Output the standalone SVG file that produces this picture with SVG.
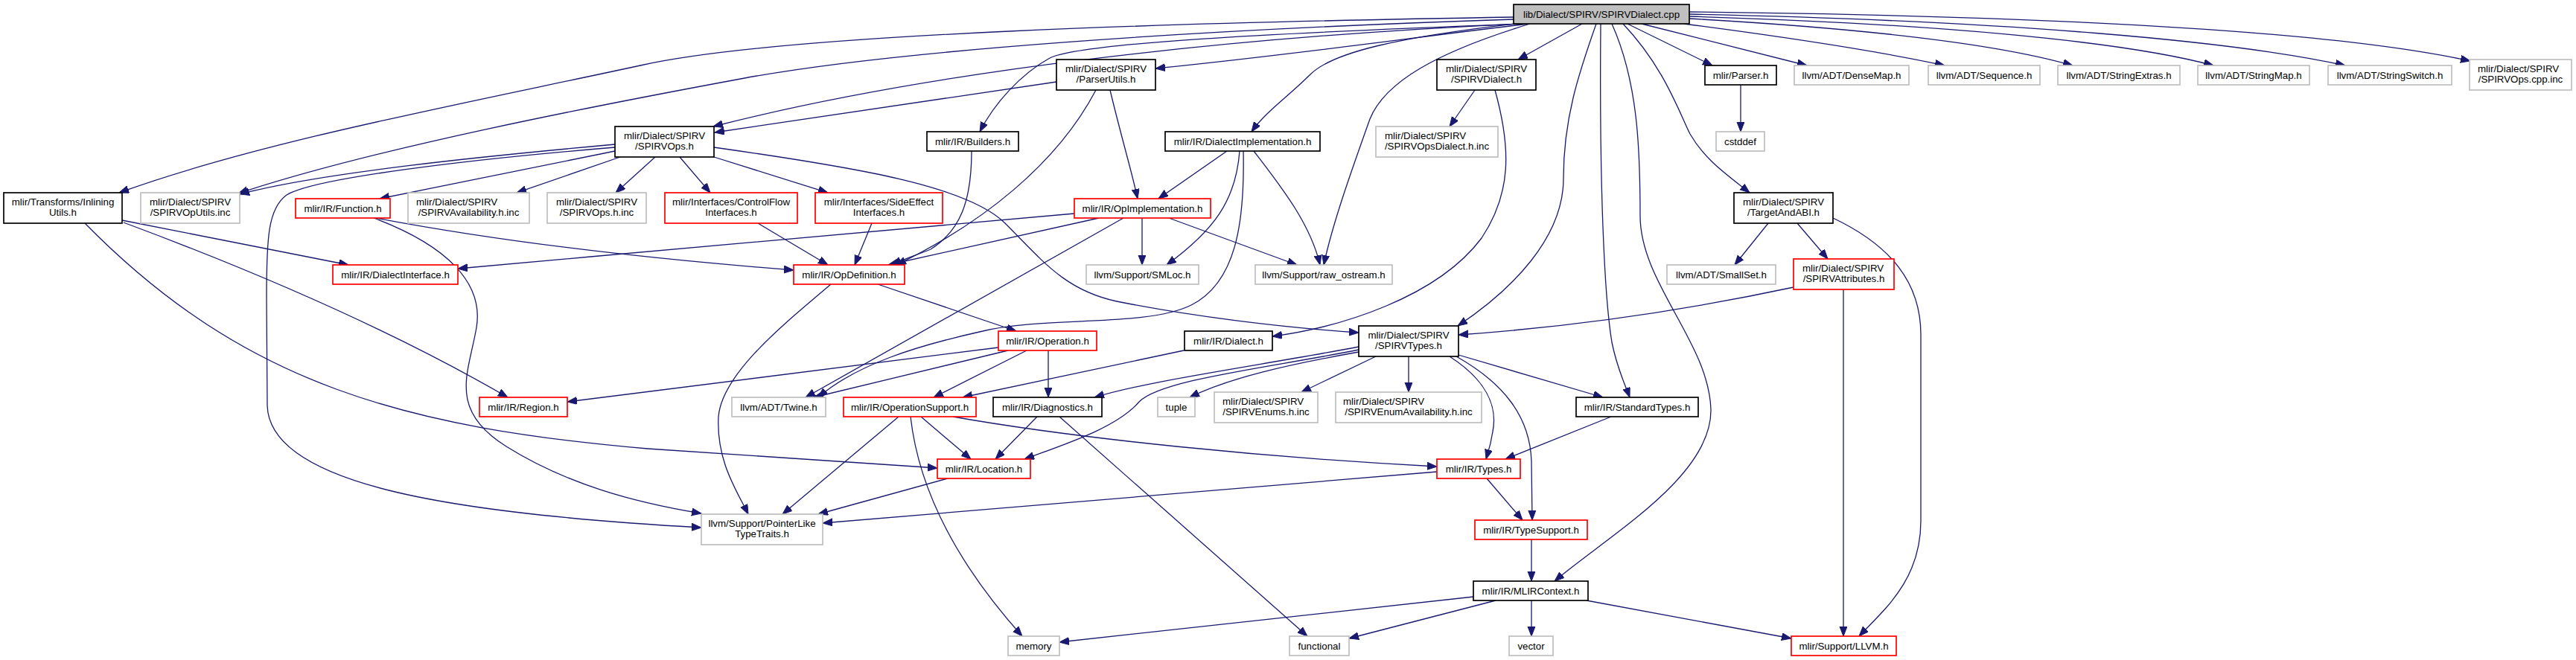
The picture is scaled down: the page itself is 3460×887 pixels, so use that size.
<svg xmlns="http://www.w3.org/2000/svg" width="3460" height="887" viewBox="0 0 3460 887">
<defs>
<style>
.e{fill:none;stroke:#191970;stroke-width:1.3;marker-end:url(#ah)}
.n rect{fill:#ffffff;stroke-width:1.7}
.nb rect{stroke:#000000}
.ng rect{stroke:#bfbfbf}
.nr rect{stroke:#ff0000}
.root rect{fill:#bfbfbf;stroke:#000000}
text{font-family:"Liberation Sans",Arial,sans-serif;font-size:13.3px;fill:#000000}
.m{text-anchor:middle}
.s{text-anchor:start}
</style>
<marker id="ah" markerUnits="userSpaceOnUse" markerWidth="14" markerHeight="11" refX="13" refY="5" orient="auto">
<path d="M0,0 L13,5 L0,10 z" fill="#191970" stroke="#191970" stroke-width="1"/>
</marker>
</defs>
<rect x="0" y="0" width="3460" height="887" fill="#ffffff"/>
<g id="connectors">
<path class="e" d="M2033,23 C1600,30 1050,45 860,88 C620,140 350,190 160,259"/>
<path class="e" d="M2033,26 C1600,40 1200,68 1000,105 C800,142 500,200 320,260"/>
<path class="e" d="M2040,32 C1650,50 1250,95 958,170"/>
<path class="e" d="M2045,32 C1700,45 1450,58 1410,78 C1370,100 1335,140 1316,177"/>
<path class="e" d="M2053,32 C1900,50 1750,72 1552,92"/>
<path class="e" d="M2035,32 C1880,50 1790,70 1760,100 C1730,130 1700,150 1681,177"/>
<path class="e" d="M2055,32 C1930,70 1860,110 1840,160 C1815,230 1790,300 1778,356"/>
<path class="e" d="M2125,32 L2039,80"/>
<path class="e" d="M2144,32 C2120,100 2100,160 2100,240 C2100,320 2030,390 1958,438"/>
<path class="e" d="M2150,32 C2148,250 2155,400 2165,460 C2172,495 2182,515 2189,534"/>
<path class="e" d="M2165,32 C2200,110 2203,200 2203,290 C2203,380 2295,460 2298,550 C2300,640 2160,720 2088,781"/>
<path class="e" d="M2180,32 C2235,90 2255,150 2270,180 C2290,215 2320,235 2350,259"/>
<path class="e" d="M2186,32 L2300,88"/>
<path class="e" d="M2205,32 L2427,88"/>
<path class="e" d="M2262,32 C2400,50 2520,68 2612,88"/>
<path class="e" d="M2269,25 C2500,38 2680,58 2784,88"/>
<path class="e" d="M2269,22 C2600,32 2850,55 2973,88"/>
<path class="e" d="M2269,19 C2700,28 3000,55 3150,88"/>
<path class="e" d="M2269,16 C2800,22 3150,45 3318,82"/>
<path class="e" d="M1419,110 L960,178"/>
<path class="e" d="M1472,121 C1420,220 1320,300 1204,356"/>
<path class="e" d="M1491,121 C1505,180 1520,230 1528,267"/>
<path class="e" d="M1981,121 L1947,170"/>
<path class="e" d="M2008,121 C2030,200 2030,260 1990,320 C1930,400 1800,440 1709,452"/>
<path class="e" d="M2338,114 L2338,177"/>
<path class="e" d="M826,194 C650,210 430,232 322,261"/>
<path class="e" d="M826,198 C620,215 420,240 385,262 C360,280 358,320 358,400 L359,545 C362,650 600,690 942,709"/>
<path class="e" d="M826,203 L510,267"/>
<path class="e" d="M833,211 L694,259"/>
<path class="e" d="M880,211 L827,259"/>
<path class="e" d="M913,211 L954,259"/>
<path class="e" d="M959,211 L1112,259"/>
<path class="e" d="M959,198 C1150,225 1300,250 1350,300 C1400,350 1430,390 1500,405 C1600,425 1720,440 1825,447"/>
<path class="e" d="M1305,203 C1305,270 1290,310 1250,335 C1225,345 1210,350 1198,356"/>
<path class="e" d="M1648,203 L1556,267"/>
<path class="e" d="M1665,203 C1660,270 1630,310 1567,356"/>
<path class="e" d="M1684,203 C1720,250 1760,300 1773,356"/>
<path class="e" d="M1670,203 C1672,300 1660,380 1600,410 C1540,440 1400,425 1320,445 C1230,465 1150,490 1099,534"/>
<path class="e" d="M164,296 L468,356"/>
<path class="e" d="M166,299 C330,360 520,440 682,534"/>
<path class="e" d="M114,300 C330,520 550,575 870,603 L1259,629"/>
<path class="e" d="M505,293 C700,330 900,350 1066,363"/>
<path class="e" d="M502,293 C600,330 650,380 640,440 C630,500 600,550 680,600 C760,650 850,675 942,690"/>
<path class="e" d="M1018,300 L1112,356"/>
<path class="e" d="M1171,300 L1148,356"/>
<path class="e" d="M1443,287 C1200,310 900,335 615,361"/>
<path class="e" d="M1476,293 L1193,356"/>
<path class="e" d="M1534,293 L1534,356"/>
<path class="e" d="M1570,293 L1742,356"/>
<path class="e" d="M1509,293 L1082,534"/>
<path class="e" d="M2375,300 L2330,356"/>
<path class="e" d="M2414,300 L2455,348"/>
<path class="e" d="M2462,293 C2540,330 2580,380 2580,450 L2580,700 C2580,780 2530,820 2497,855"/>
<path class="e" d="M1179,382 L1365,445"/>
<path class="e" d="M1116,382 C1060,430 970,500 965,560 C962,620 990,660 1005,691"/>
<path class="e" d="M2409,386 C2250,420 2100,440 1959,450"/>
<path class="e" d="M2476,389 L2476,855"/>
<path class="e" d="M1341,467 L762,540"/>
<path class="e" d="M1354,471 L1093,534"/>
<path class="e" d="M1379,471 L1254,534"/>
<path class="e" d="M1408,471 L1408,534"/>
<path class="e" d="M1590,471 L1293,534"/>
<path class="e" d="M1825,466 C1700,490 1550,510 1470,534"/>
<path class="e" d="M1825,470 C1700,495 1560,510 1530,540 C1500,575 1430,597 1376,617"/>
<path class="e" d="M1825,473 C1730,490 1650,508 1598,534"/>
<path class="e" d="M1848,479 L1748,527"/>
<path class="e" d="M1892,479 L1892,527"/>
<path class="e" d="M1959,477 L2153,534"/>
<path class="e" d="M1947,479 C1995,510 2012,545 2005,580 C2002,600 1998,610 1996,617"/>
<path class="e" d="M1956,479 C2020,515 2055,560 2057,620 L2058,699"/>
<path class="e" d="M1237,560 L1304,617"/>
<path class="e" d="M1207,560 L1051,691"/>
<path class="e" d="M1223,560 C1232,640 1270,740 1373,855"/>
<path class="e" d="M1280,560 C1450,590 1700,615 1930,627"/>
<path class="e" d="M1393,560 L1337,617"/>
<path class="e" d="M1423,560 L1756,855"/>
<path class="e" d="M2164,560 L2022,617"/>
<path class="e" d="M1273,643 L1099,691"/>
<path class="e" d="M1997,643 L2045,699"/>
<path class="e" d="M1930,634 L1105,703"/>
<path class="e" d="M2057,725 L2057,781"/>
<path class="e" d="M1979,802 L1423,863"/>
<path class="e" d="M2009,807 L1812,858"/>
<path class="e" d="M2057,807 L2057,855"/>
<path class="e" d="M2131,807 L2406,858"/>
</g>
<g id="nodes">
<g id="n_root" class="n root"><rect x="2033" y="6" width="236" height="26"/><text class="m" x="2151" y="23.5">lib/Dialect/SPIRV/SPIRVDialect.cpp</text></g>
<g id="n_parserutils" class="n nb"><rect x="1419" y="80" width="133" height="41"/><text class="m" x="1485.5" y="97">mlir/Dialect/SPIRV</text><text class="m" x="1485.5" y="111">/ParserUtils.h</text></g>
<g id="n_spirvdialect_h" class="n nb"><rect x="1930" y="80" width="133" height="41"/><text class="m" x="1996.5" y="97">mlir/Dialect/SPIRV</text><text class="m" x="1996.5" y="111">/SPIRVDialect.h</text></g>
<g id="n_parser" class="n nb"><rect x="2290" y="88" width="96" height="26"/><text class="m" x="2338" y="105.5">mlir/Parser.h</text></g>
<g id="n_densemap" class="n ng"><rect x="2410" y="88" width="154" height="26"/><text class="m" x="2487" y="105.5">llvm/ADT/DenseMap.h</text></g>
<g id="n_sequence" class="n ng"><rect x="2590" y="88" width="150" height="26"/><text class="m" x="2665" y="105.5">llvm/ADT/Sequence.h</text></g>
<g id="n_stringextras" class="n ng"><rect x="2764" y="88" width="164" height="26"/><text class="m" x="2846" y="105.5">llvm/ADT/StringExtras.h</text></g>
<g id="n_stringmap" class="n ng"><rect x="2952" y="88" width="150" height="26"/><text class="m" x="3027" y="105.5">llvm/ADT/StringMap.h</text></g>
<g id="n_stringswitch" class="n ng"><rect x="3127" y="88" width="166" height="26"/><text class="m" x="3210" y="105.5">llvm/ADT/StringSwitch.h</text></g>
<g id="n_opscppinc" class="n ng"><rect x="3317" y="80" width="137" height="41"/><text class="s" x="3328" y="97">mlir/Dialect/SPIRV</text><text class="m" x="3385.5" y="111">/SPIRVOps.cpp.inc</text></g>
<g id="n_spirvops_h" class="n nb"><rect x="826" y="170" width="133" height="41"/><text class="m" x="892.5" y="187">mlir/Dialect/SPIRV</text><text class="m" x="892.5" y="201">/SPIRVOps.h</text></g>
<g id="n_builders" class="n nb"><rect x="1245" y="177" width="123" height="26"/><text class="m" x="1306.5" y="194.5">mlir/IR/Builders.h</text></g>
<g id="n_dialectimpl" class="n nb"><rect x="1565" y="177" width="208" height="26"/><text class="m" x="1669" y="194.5">mlir/IR/DialectImplementation.h</text></g>
<g id="n_opsdialectinc" class="n ng"><rect x="1848" y="170" width="164" height="41"/><text class="s" x="1860" y="187">mlir/Dialect/SPIRV</text><text class="m" x="1930" y="201">/SPIRVOpsDialect.h.inc</text></g>
<g id="n_cstddef" class="n ng"><rect x="2305" y="177" width="65" height="26"/><text class="m" x="2337.5" y="194.5">cstddef</text></g>
<g id="n_inliningutils" class="n nb"><rect x="5" y="259" width="159" height="41"/><text class="m" x="84.5" y="276">mlir/Transforms/Inlining</text><text class="m" x="84.5" y="290">Utils.h</text></g>
<g id="n_oputilsinc" class="n ng"><rect x="189" y="259" width="133" height="41"/><text class="m" x="255.5" y="276">mlir/Dialect/SPIRV</text><text class="m" x="255.5" y="290">/SPIRVOpUtils.inc</text></g>
<g id="n_function" class="n nr"><rect x="397" y="267" width="127" height="26"/><text class="m" x="460.5" y="284.5">mlir/IR/Function.h</text></g>
<g id="n_availinc" class="n ng"><rect x="548" y="259" width="163" height="41"/><text class="s" x="559" y="276">mlir/Dialect/SPIRV</text><text class="m" x="629.5" y="290">/SPIRVAvailability.h.inc</text></g>
<g id="n_opshinc" class="n ng"><rect x="735" y="259" width="133" height="41"/><text class="m" x="801.5" y="276">mlir/Dialect/SPIRV</text><text class="m" x="801.5" y="290">/SPIRVOps.h.inc</text></g>
<g id="n_controlflow" class="n nr"><rect x="893" y="259" width="178" height="41"/><text class="m" x="982" y="276">mlir/Interfaces/ControlFlow</text><text class="m" x="982" y="290">Interfaces.h</text></g>
<g id="n_sideeffect" class="n nr"><rect x="1095" y="259" width="171" height="41"/><text class="m" x="1180.5" y="276">mlir/Interfaces/SideEffect</text><text class="m" x="1180.5" y="290">Interfaces.h</text></g>
<g id="n_opimpl" class="n nr"><rect x="1443" y="267" width="183" height="26"/><text class="m" x="1534.5" y="284.5">mlir/IR/OpImplementation.h</text></g>
<g id="n_targetandabi" class="n nb"><rect x="2329" y="259" width="133" height="41"/><text class="m" x="2395.5" y="276">mlir/Dialect/SPIRV</text><text class="m" x="2395.5" y="290">/TargetAndABI.h</text></g>
<g id="n_dialectinterface" class="n nr"><rect x="447" y="356" width="168" height="26"/><text class="m" x="531" y="373.5">mlir/IR/DialectInterface.h</text></g>
<g id="n_opdefinition" class="n nr"><rect x="1066" y="356" width="149" height="26"/><text class="m" x="1140.5" y="373.5">mlir/IR/OpDefinition.h</text></g>
<g id="n_smloc" class="n ng"><rect x="1459" y="356" width="151" height="26"/><text class="m" x="1534.5" y="373.5">llvm/Support/SMLoc.h</text></g>
<g id="n_rawostream" class="n ng"><rect x="1686" y="356" width="184" height="26"/><text class="m" x="1778" y="373.5">llvm/Support/raw_ostream.h</text></g>
<g id="n_smallset" class="n ng"><rect x="2239" y="356" width="146" height="26"/><text class="m" x="2312" y="373.5">llvm/ADT/SmallSet.h</text></g>
<g id="n_spirvattributes" class="n nr"><rect x="2409" y="348" width="135" height="41"/><text class="s" x="2421" y="365">mlir/Dialect/SPIRV</text><text class="m" x="2476.5" y="379">/SPIRVAttributes.h</text></g>
<g id="n_operation" class="n nr"><rect x="1341" y="445" width="132" height="26"/><text class="m" x="1407" y="462.5">mlir/IR/Operation.h</text></g>
<g id="n_dialect" class="n nb"><rect x="1591" y="445" width="118" height="26"/><text class="m" x="1650" y="462.5">mlir/IR/Dialect.h</text></g>
<g id="n_spirvtypes" class="n nb"><rect x="1825" y="438" width="134" height="41"/><text class="m" x="1892" y="455">mlir/Dialect/SPIRV</text><text class="m" x="1892" y="469">/SPIRVTypes.h</text></g>
<g id="n_region" class="n nr"><rect x="644" y="534" width="118" height="26"/><text class="m" x="703" y="551.5">mlir/IR/Region.h</text></g>
<g id="n_twine" class="n ng"><rect x="983" y="534" width="126" height="26"/><text class="m" x="1046" y="551.5">llvm/ADT/Twine.h</text></g>
<g id="n_opsupport" class="n nr"><rect x="1133" y="534" width="178" height="26"/><text class="m" x="1222" y="551.5">mlir/IR/OperationSupport.h</text></g>
<g id="n_diagnostics" class="n nb"><rect x="1334" y="534" width="146" height="26"/><text class="m" x="1407" y="551.5">mlir/IR/Diagnostics.h</text></g>
<g id="n_tuple" class="n ng"><rect x="1555" y="534" width="50" height="26"/><text class="m" x="1580" y="551.5">tuple</text></g>
<g id="n_enumsinc" class="n ng"><rect x="1631" y="527" width="139" height="41"/><text class="s" x="1642" y="544">mlir/Dialect/SPIRV</text><text class="m" x="1700.5" y="558">/SPIRVEnums.h.inc</text></g>
<g id="n_enumavailinc" class="n ng"><rect x="1794" y="527" width="196" height="41"/><text class="s" x="1804" y="544">mlir/Dialect/SPIRV</text><text class="m" x="1892" y="558">/SPIRVEnumAvailability.h.inc</text></g>
<g id="n_standardtypes" class="n nb"><rect x="2117" y="534" width="164" height="26"/><text class="m" x="2199" y="551.5">mlir/IR/StandardTypes.h</text></g>
<g id="n_location" class="n nr"><rect x="1259" y="617" width="125" height="26"/><text class="m" x="1321.5" y="634.5">mlir/IR/Location.h</text></g>
<g id="n_types" class="n nr"><rect x="1930" y="617" width="112" height="26"/><text class="m" x="1986" y="634.5">mlir/IR/Types.h</text></g>
<g id="n_pointerlike" class="n ng"><rect x="942" y="691" width="163" height="41"/><text class="m" x="1023.5" y="708">llvm/Support/PointerLike</text><text class="m" x="1023.5" y="722">TypeTraits.h</text></g>
<g id="n_typesupport" class="n nr"><rect x="1981" y="699" width="151" height="26"/><text class="m" x="2056.5" y="716.5">mlir/IR/TypeSupport.h</text></g>
<g id="n_mlircontext" class="n nb"><rect x="1979" y="781" width="154" height="26"/><text class="m" x="2056" y="798.5">mlir/IR/MLIRContext.h</text></g>
<g id="n_memory" class="n ng"><rect x="1354" y="855" width="69" height="26"/><text class="m" x="1388.5" y="872.5">memory</text></g>
<g id="n_functional" class="n ng"><rect x="1732" y="855" width="80" height="26"/><text class="m" x="1772" y="872.5">functional</text></g>
<g id="n_vector" class="n ng"><rect x="2027" y="855" width="59" height="26"/><text class="m" x="2056.5" y="872.5">vector</text></g>
<g id="n_llvm" class="n nr"><rect x="2406" y="855" width="141" height="26"/><text class="m" x="2476.5" y="872.5">mlir/Support/LLVM.h</text></g>
</g>
</svg>
